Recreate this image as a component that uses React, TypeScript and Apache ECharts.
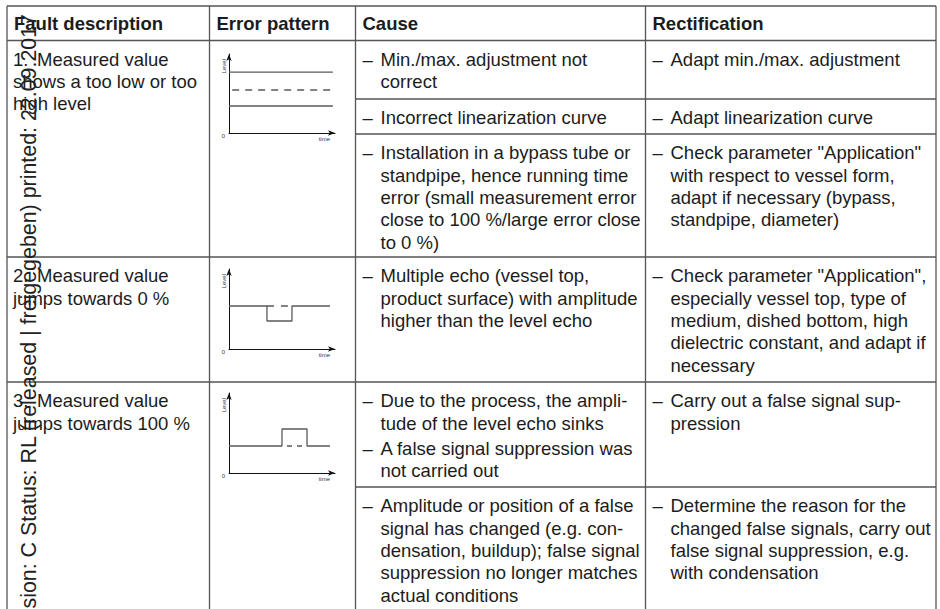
import React, { useEffect, useRef } from 'react';
import * as echarts from 'echarts';

const FONT = "'Liberation Sans', Arial, Helvetica, sans-serif";

// ---------- table content ----------
const headers = ['Fault description', 'Error pattern', 'Cause', 'Rectification'];
const faultNumbers = ['1.', '2.', '3.'];
const faultFirstLines = ['Measured value', 'Measured value', 'Measured value'];
const faultRestLines = ['shows a too low or too\nhigh level', 'jumps towards 0 %', 'jumps towards 100 %'];

const causeCells: string[][] = [
  ['Min./max. adjustment not\ncorrect'],
  ['Incorrect linearization curve'],
  ['Installation in a bypass tube or\nstandpipe, hence running time\nerror (small measurement error\nclose to 100 %/large error close\nto 0 %)'],
  ['Multiple echo (vessel top,\nproduct surface) with amplitude\nhigher than the level echo'],
  ['Due to the process, the ampli-\ntude of the level echo sinks', 'A false signal suppression was\nnot carried out'],
  ['Amplitude or position of a false\nsignal has changed (e.g. con-\ndensation, buildup); false signal\nsuppression no longer matches\nactual conditions'],
];
const rectCells: string[][] = [
  ['Adapt min./max. adjustment'],
  ['Adapt linearization curve'],
  ['Check parameter "Application"\nwith respect to vessel form,\nadapt if necessary (bypass,\nstandpipe, diameter)'],
  ['Check parameter "Application",\nespecially vessel top, type of\nmedium, dished bottom, high\ndielectric constant, and adapt if\nnecessary'],
  ['Carry out a false signal sup-\npression'],
  ['Determine the reason for the\nchanged false signals, carry out\nfalse signal suppression, e.g.\nwith condensation'],
];
const watermark = 'sion: C Status: RL (released | freigegeben) printed: 22.09.2017';

// ---------- error pattern data (x: time 0..100, y: level 0..100) ----------
const pattern1Upper = [[0, 77], [98, 77]];
const pattern1True = [[3, 54.4], [98, 54.4]];
const pattern1Lower = [[0, 34.2], [98, 34.2]];
const pattern2Measured = [[0, 53.75], [35.8, 53.75], [35.8, 35], [59.4, 35], [59.4, 53.75], [95.3, 53.75]];
const pattern2True = [[35.8, 53.75], [59.4, 53.75]];
const pattern3Measured = [[0, 33.75], [50, 33.75], [50, 55], [73.6, 55], [73.6, 33.75], [95.3, 33.75]];
const pattern3True = [[50, 33.75], [73.6, 33.75]];

// ---------- layout ----------
const COL_X = [7, 209.5, 355.5, 645.5, 936];
const TABLE_TOP = 6;
const HEADER_BOTTOM = 40.5;
const ROW_TOPS = [40.5, 257, 382];
const ROW_LINES = [257, 382];
const CELL_TOPS = [40.5, 99, 134, 257, 382, 487];
const SUB_LINES = [99, 134, 487];
const CHART_BOXES = [
  { top: 54, height: 79 },
  { top: 269, height: 80 },
  { top: 393, height: 80 },
];
const LH = 22.4;
const PAD_TOP = 7.5;
const FS = 18.5;
const TEXT = '#1c1c1c';
const RULE = '#555';

function hLine(x1: number, x2: number, y: number) {
  return { type: 'line', silent: true, shape: { x1, y1: y, x2, y2: y }, style: { stroke: RULE, lineWidth: 1.3 } };
}
function vLine(x: number, y1: number, y2: number) {
  return { type: 'line', silent: true, shape: { x1: x, y1, x2: x, y2 }, style: { stroke: RULE, lineWidth: 1.3 } };
}
function txt(text: string, x: number, y: number, extra: any = {}) {
  return {
    type: 'text', silent: true, x, y, z: 10,
    style: { text, fill: TEXT, fontSize: FS, fontFamily: FONT, lineHeight: LH, verticalAlign: 'top', align: 'left', ...extra },
  };
}

function bulletCell(bullets: string[], colX: number, top: number) {
  const out: any[] = [];
  let y = top + PAD_TOP;
  bullets.forEach((b) => {
    out.push(txt('–', colX + 7, y));
    out.push(txt(b, colX + 25, y));
    y += b.split('\n').length * LH + 3;
  });
  return out;
}

export default function App() {
  const ref = useRef<HTMLDivElement>(null);
  useEffect(() => {
    document.body.style.margin = '0';
    if (!ref.current) return;
    const chart = echarts.init(ref.current, undefined, { renderer: 'svg' });

    const graphic: any[] = [];
    // rules
    graphic.push(hLine(COL_X[0], COL_X[4], TABLE_TOP));
    graphic.push(hLine(COL_X[0], COL_X[4], HEADER_BOTTOM));
    ROW_LINES.forEach((y) => graphic.push(hLine(COL_X[0], COL_X[4], y)));
    SUB_LINES.forEach((y) => graphic.push(hLine(COL_X[2], COL_X[4], y)));
    COL_X.forEach((x) => graphic.push(vLine(x, TABLE_TOP, 640)));
    // headers
    headers.forEach((h, i) => {
      graphic.push(txt(h, COL_X[i] + 7, (TABLE_TOP + HEADER_BOTTOM) / 2, { fontWeight: 'bold', verticalAlign: 'middle' }));
    });
    // fault descriptions
    faultNumbers.forEach((n, i) => {
      const y = ROW_TOPS[i] + PAD_TOP;
      graphic.push(txt(n, COL_X[0] + 6, y));
      graphic.push(txt(faultFirstLines[i], COL_X[0] + 30, y));
      graphic.push(txt(faultRestLines[i], COL_X[0] + 6, y + LH));
    });
    // causes & rectifications
    causeCells.forEach((c, i) => graphic.push(...bulletCell(c, COL_X[2], CELL_TOPS[i])));
    rectCells.forEach((c, i) => graphic.push(...bulletCell(c, COL_X[3], CELL_TOPS[i])));
    // rotated print stamp
    graphic.push({
      type: 'text', silent: true, x: 28.5, y: 14, rotation: Math.PI / 2, z: 100,
      style: { text: watermark, fill: '#222', fontSize: 21.4, fontFamily: FONT, align: 'right', verticalAlign: 'middle' },
    });

    const gridLeft = COL_X[1] + 19.5;
    const gridW = 106;
    const axisLine = { show: true, symbol: ['none', 'arrow'], symbolSize: [4, 7], lineStyle: { color: '#111', width: 1 } };
    const smallText = { fontSize: 6, color: '#333', fontFamily: FONT };

    const grids = CHART_BOXES.map((b) => ({
      left: gridLeft, top: b.top, width: gridW, height: b.height, containLabel: false, outerBoundsMode: 'none',
    }));
    const xAxes = CHART_BOXES.map((_, i) => ({
      gridIndex: i, type: 'value', min: 0, max: 100,
      axisLine, axisTick: { show: false }, axisLabel: { show: false }, splitLine: { show: false },
      name: 'time', nameLocation: 'end', nameGap: -5,
      nameTextStyle: { ...smallText, align: 'right', verticalAlign: 'top', padding: [3, 0, 0, 0] },
    }));
    const yAxes = CHART_BOXES.map((_, i) => ({
      gridIndex: i, type: 'value', min: 0, max: 100, interval: 100,
      axisLine, axisTick: { show: false }, splitLine: { show: false },
      axisLabel: { ...smallText, showMinLabel: true, margin: 4, verticalAlign: 'top', formatter: (v: number) => (v === 0 ? '0' : '') },
      name: 'Level', nameLocation: 'end', nameGap: -5, nameRotate: 90,
      nameTextStyle: { ...smallText, align: 'right', verticalAlign: 'bottom', padding: [0, 0, 2, 0] },
    }));

    const solid = { color: '#5a5a5a', width: 1.3 };
    const mk = (data: number[][], idx: number, style: any) => ({
      type: 'line', xAxisIndex: idx, yAxisIndex: idx, data, showSymbol: false, silent: true,
      lineStyle: style, emphasis: { disabled: true },
    });

    chart.setOption({
      animation: false,
      grid: grids,
      xAxis: xAxes,
      yAxis: yAxes,
      series: [
        mk(pattern1Upper, 0, solid),
        mk(pattern1True, 0, { ...solid, type: [7, 6] }),
        mk(pattern1Lower, 0, solid),
        mk(pattern2Measured, 1, solid),
        mk(pattern2True, 1, { ...solid, type: [7, 7] }),
        mk(pattern3Measured, 2, solid),
        mk(pattern3True, 2, { ...solid, type: [5, 5], dashOffset: 5 }),
      ],
      graphic,
    });
    return () => chart.dispose();
  }, []);
  return <div ref={ref} style={{ width: 940, height: 609 }} />;
}
